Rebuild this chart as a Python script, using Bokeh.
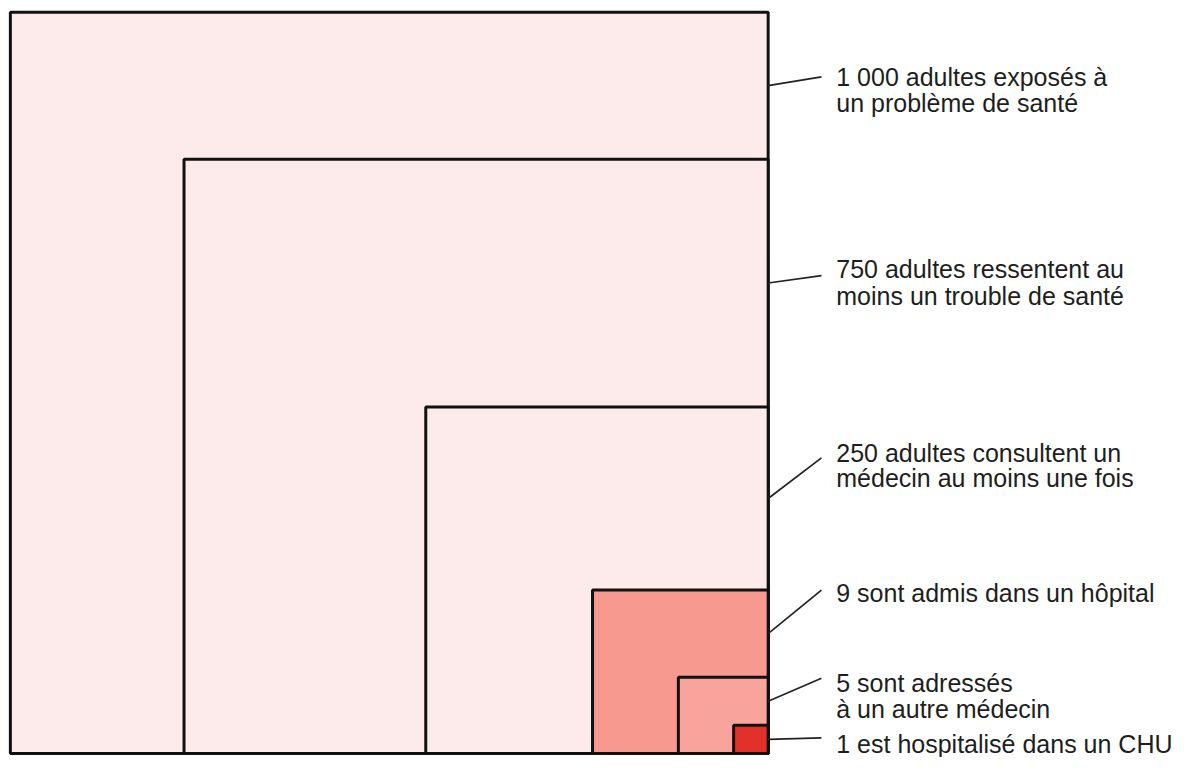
from bokeh.plotting import figure
from bokeh.models import Range1d, ColumnDataSource
from bokeh.core.properties import value
from bokeh.embed import file_html
from bokeh.resources import INLINE

# ---- data ----
counts = [1000, 750, 250, 9, 5, 1]
labels = [
    ["1 000 adultes exposés à", "un problème de santé"],
    ["750 adultes ressentent au", "moins un trouble de santé"],
    ["250 adultes consultent un", "médecin au moins une fois"],
    ["9 sont admis dans un hôpital"],
    ["5 sont adressés", "à un autre médecin"],
    ["1 est hospitalisé dans un CHU"],
]
# square sides as drawn (arbitrary units)
side_w = [768, 592, 347, 178, 91, 35]
side_h = [757, 607, 354, 167, 78, 29]
fill_colors = ["#fdebec", "#fdebec", "#fdebec", "#f7998f", "#f8a49c", "#e2302a"]

# ---- annotation layout ----
label_x = 69
leader_x_end = 54
label_baselines = [[691, 664], [495, 467], [307, 281], [164], [72, 46], [10]]
leader_end_y = [691, 488, 302, 167, 77, 16]

p = figure(width=1188, height=757, output_backend="svg", toolbar_location=None,
           x_range=Range1d(-778, 426), y_range=Range1d(-4, 769),
           min_border=0, min_border_left=0, min_border_right=0,
           min_border_top=0, min_border_bottom=0)
p.axis.visible = False
p.grid.visible = False
p.outline_line_color = None
p.background_fill_color = "white"
p.border_fill_color = "white"

src = ColumnDataSource(dict(
    left=[-w for w in side_w], right=[0] * len(side_w),
    bottom=[0] * len(side_h), top=side_h, color=fill_colors, count=counts))
p.quad(left="left", right="right", bottom="bottom", top="top", source=src,
       fill_color="color", line_color="#111111", line_width=3)

# leader lines: start at the middle of the visible band of each square's right edge
hs = side_h + [0]
leader_start_y = [(hs[i] + hs[i + 1]) / 2 for i in range(len(side_h))]
p.segment(x0=[0] * len(side_h), y0=leader_start_y,
          x1=[leader_x_end] * len(side_h), y1=leader_end_y,
          line_color="#222222", line_width=1.7)

tx, ty, tt = [], [], []
for lines, bls in zip(labels, label_baselines):
    for line, b in zip(lines, bls):
        tx.append(label_x)
        ty.append(b)
        tt.append(line)
p.text(x=tx, y=ty, text=tt, text_font=value("Liberation Sans"),
       text_font_size="25px", text_baseline="alphabetic", text_align="left",
       text_color="#1e1e1e")

open("out.html", "w").write(file_html(p, INLINE))
